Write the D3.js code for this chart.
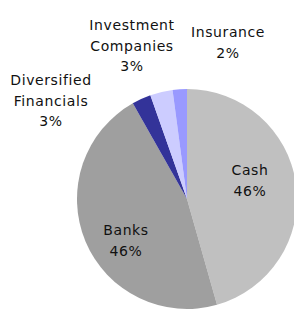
<!DOCTYPE html>
<html>
<head>
<meta charset="utf-8">
<script src="https://cdn.jsdelivr.net/npm/d3@7"></script>
<style>
  html, body { margin: 0; padding: 0; background: #fff; }
  svg { display: block; }
  text { font-family: "DejaVu Sans", sans-serif; font-size: 14px; fill: #111; letter-spacing: 0.6px; }
</style>
</head>
<body>
<script>
var width = 294;
var height = 311;

// data
var categories = ["Cash", "Banks", "Diversified Financials", "Investment Companies", "Insurance"];
var values = [45.6, 46.2, 2.8, 3.3, 2.1];
var labelLines = [["Cash"], ["Banks"], ["Diversified", "Financials"], ["Investment", "Companies"], ["Insurance"]];

var colors = ["#c0c0c0", "#9f9f9f", "#333399", "#ccccff", "#9999ff"];

/* pie layout */
var cx = 187, cy = 199, radius = 110;
var lineH = 20.5;

// label anchors (first baseline), relative to the pie centre
var labelPos = [
  [63, -24],
  [-61, 36],
  [-136, -114],
  [-55, -169],
  [41, -162]
];

var total = d3.sum(values);
var pct = d3.format(".0%");

var pie = d3.pie().sort(null).value(function (d) { return d; });
var arc = d3.arc().innerRadius(0).outerRadius(radius);

var svg = d3.select("body").append("svg")
  .attr("width", width)
  .attr("height", height);

var g = svg.append("g")
  .attr("transform", "translate(" + cx + "," + cy + ")");

g.selectAll("path")
  .data(pie(values))
  .enter().append("path")
  .attr("d", arc)
  .attr("fill", function (d, i) { return colors[i]; });

var labels = g.selectAll(".label")
  .data(categories)
  .enter().append("text")
  .attr("class", "label")
  .attr("text-anchor", "middle")
  .attr("transform", function (d, i) { return "translate(" + labelPos[i][0] + "," + labelPos[i][1] + ")"; });

labels.each(function (d, i) {
  var lines = labelLines[i].concat([pct(values[i] / total)]);
  d3.select(this).selectAll("tspan")
    .data(lines)
    .enter().append("tspan")
    .attr("x", 0)
    .attr("y", function (t, j) { return j * lineH; })
    .text(function (t) { return t; });
});
</script>
</body>
</html>
